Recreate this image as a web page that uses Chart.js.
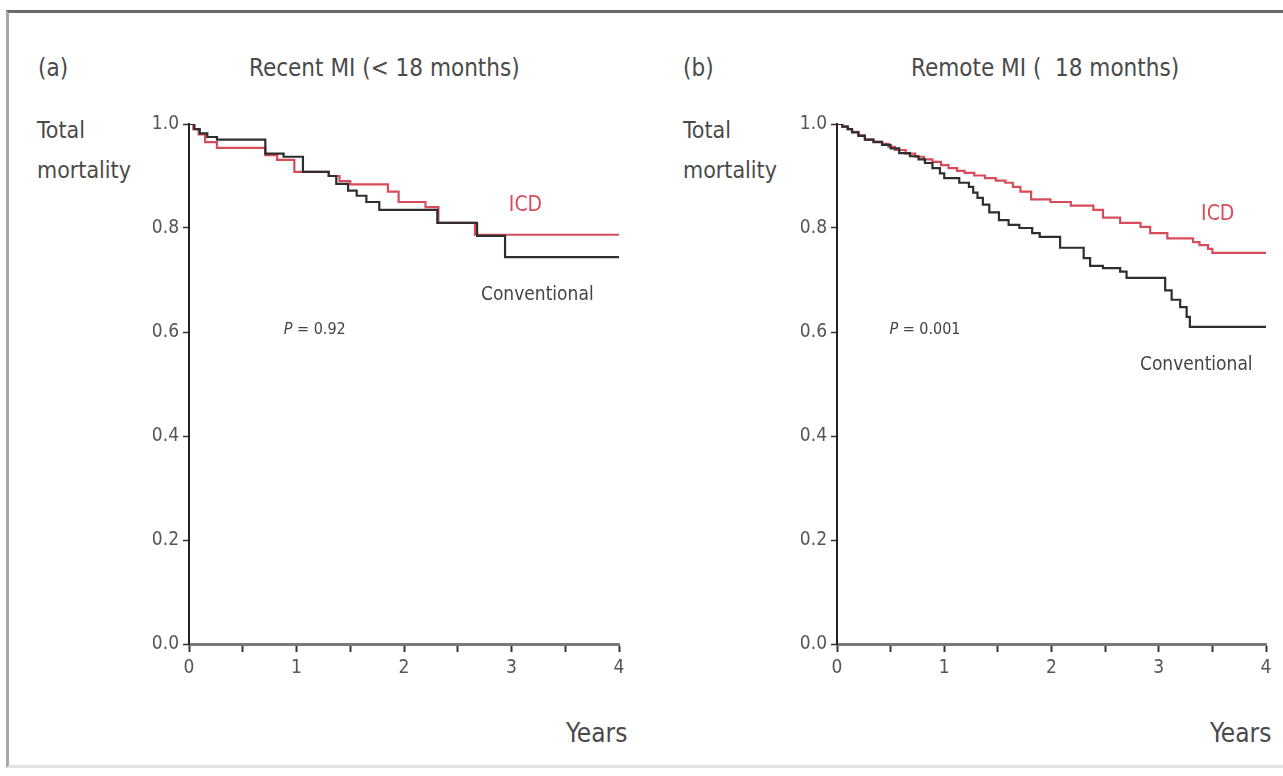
<!DOCTYPE html>
<html>
<head>
    <title>Total mortality by time since MI</title>
    <script src="https://cdn.jsdelivr.net/npm/chart.js"></script>
    <style type="text/css">
        body {
            margin: 0;
            width: 1283px;
            height: 776px;
            overflow: hidden;
            background: #fff;
            font-family: 'Liberation Sans Narrow', 'DejaVu Sans Condensed', 'Liberation Sans', sans-serif;
            color: #4a4a4a;
        }
        .frame {
            position: absolute;
            left: 6px;
            top: 10px;
            width: 1290px;
            height: 752px;
            border-top: 3px solid #6a6a6a;
            border-left: 3px solid #a8a8a8;
            border-bottom: 3px solid #e4e4e4;
        }
        .txt {
            position: absolute;
            white-space: nowrap;
            line-height: 1;
        }
        .title { font-size: 24px; top: 56px; }
        .ylab { font-size: 23px; line-height: 40px; top: 110px; }
        .xlab { font-size: 26px; top: 720px; }
        .panel {
            position: absolute;
            top: 100px;
            height: 600px;
        }
    </style>
</head>
<body>
    <div class="frame"></div>

    <div class="txt title" style="left: 38px;">(a)</div>
    <div class="txt title" style="left: 249px;">Recent MI (&lt; 18 months)</div>
    <div class="txt title" style="left: 683px;">(b)</div>
    <div class="txt title" style="left: 911px;">Remote MI (&nbsp;&nbsp;18 months)</div>

    <div class="txt ylab" style="left: 37px;">Total<br>mortality</div>
    <div class="txt ylab" style="left: 683px;">Total<br>mortality</div>

    <div class="txt xlab" style="left: 566px;">Years</div>
    <div class="txt xlab" style="left: 1210px;">Years</div>

    <div class="panel" style="left: 130px; width: 520px;"><canvas id="chart-a"></canvas></div>
    <div class="panel" style="left: 778px; width: 505px;"><canvas id="chart-b"></canvas></div>

    <script type="text/javascript">
        // Kaplan-Meier steps: time of each drop (years) and survival after it
        const recentConvTimes = [0, 0.05, 0.1, 0.17, 0.26, 0.71, 0.88, 1.06, 1.3, 1.37, 1.48, 1.56, 1.65, 1.77, 2.31, 2.68, 2.94];
        const recentConvSurv  = [1.0, 0.99, 0.982, 0.975, 0.97, 0.943, 0.937, 0.908, 0.9, 0.885, 0.872, 0.862, 0.85, 0.835, 0.81, 0.785, 0.744];

        const recentIcdTimes = [0, 0.04, 0.09, 0.15, 0.26, 0.71, 0.82, 0.98, 1.3, 1.4, 1.5, 1.85, 1.95, 2.2, 2.32, 2.66];
        const recentIcdSurv  = [1.0, 0.99, 0.98, 0.965, 0.954, 0.94, 0.931, 0.908, 0.9, 0.89, 0.884, 0.87, 0.85, 0.84, 0.81, 0.787];

        const remoteConvTimes = [0, 0.05, 0.1, 0.14, 0.2, 0.26, 0.34, 0.42, 0.5, 0.58, 0.68, 0.76, 0.82, 0.89, 0.96, 1.0, 1.14, 1.23, 1.27, 1.31, 1.36, 1.42, 1.51, 1.6, 1.7, 1.82, 1.89, 2.08, 2.3, 2.36, 2.48, 2.64, 2.7, 3.06, 3.12, 3.2, 3.26, 3.29];
        const remoteConvSurv  = [1.0, 0.995, 0.99, 0.984, 0.977, 0.97, 0.965, 0.96, 0.953, 0.944, 0.938, 0.932, 0.925, 0.915, 0.905, 0.896, 0.887, 0.879, 0.868, 0.858, 0.845, 0.83, 0.815, 0.806, 0.8, 0.79, 0.783, 0.762, 0.742, 0.727, 0.723, 0.716, 0.704, 0.68, 0.662, 0.648, 0.629, 0.61];

        const remoteIcdTimes = [0, 0.05, 0.1, 0.14, 0.2, 0.26, 0.34, 0.42, 0.48, 0.54, 0.64, 0.73, 0.81, 0.89, 0.97, 1.04, 1.12, 1.19, 1.28, 1.38, 1.48, 1.57, 1.64, 1.71, 1.81, 1.99, 2.18, 2.39, 2.48, 2.64, 2.83, 2.92, 3.08, 3.32, 3.38, 3.46, 3.5];
        const remoteIcdSurv  = [1.0, 0.995, 0.99, 0.985, 0.978, 0.97, 0.966, 0.962, 0.956, 0.95, 0.943, 0.937, 0.932, 0.927, 0.921, 0.915, 0.91, 0.906, 0.901, 0.896, 0.891, 0.887, 0.879, 0.87, 0.855, 0.85, 0.843, 0.835, 0.82, 0.81, 0.802, 0.79, 0.78, 0.773, 0.767, 0.76, 0.752];

        const yTicks = [0, 0.2, 0.4, 0.6, 0.8, 1.0];
        const xTicks = [0, 1, 2, 3, 4];
        const followUp = 4;

        const FONT = "'Liberation Sans Narrow', 'DejaVu Sans Condensed', 'Liberation Sans', sans-serif";
        const ICD_RED = '#d64c5a';
        const CONV_GREY = '#2e2e2e';

        // turn step arrays into points, carried flat to end of follow-up
        function kmPoints(times, surv) {
            const pts = times.map((t, i) => ({ x: t, y: surv[i] }));
            pts.push({ x: followUp, y: surv[surv.length - 1] });
            return pts;
        }

        // text labels placed in data units inside the plot
        const notesPlugin = {
            id: 'notes',
            afterDatasetsDraw(chart, args, opts) {
                const ctx = chart.ctx;
                const xs = chart.scales.x, ys = chart.scales.y;
                ctx.save();
                ctx.textBaseline = 'middle';
                (opts.items || []).forEach(n => {
                    const px = xs.getPixelForValue(n.x);
                    const py = ys.getPixelForValue(n.y);
                    ctx.fillStyle = n.color;
                    if (n.italic) {
                        // italic P followed by the value
                        ctx.font = 'italic ' + n.size + 'px ' + FONT;
                        const wP = ctx.measureText(n.italic).width;
                        ctx.font = n.size + 'px ' + FONT;
                        const wR = ctx.measureText(n.text).width;
                        let left = px - (wP + wR) / 2;
                        ctx.textAlign = 'left';
                        ctx.font = 'italic ' + n.size + 'px ' + FONT;
                        ctx.fillText(n.italic, left, py);
                        ctx.font = n.size + 'px ' + FONT;
                        ctx.fillText(n.text, left + wP, py);
                    } else {
                        ctx.textAlign = 'center';
                        ctx.font = n.size + 'px ' + FONT;
                        ctx.fillText(n.text, px, py);
                    }
                });
                ctx.restore();
            }
        };

        function makeChart(id, conv, icd, notes, rightPad) {
            return new Chart(document.getElementById(id), {
                type: 'line',
                data: {
                    datasets: [
                        {
                            label: 'Conventional',
                            data: kmPoints(conv[0], conv[1]),
                            borderColor: CONV_GREY,
                            borderWidth: 2.2,
                            stepped: true,
                            pointRadius: 0,
                            fill: false
                        },
                        {
                            label: 'ICD',
                            data: kmPoints(icd[0], icd[1]),
                            borderColor: ICD_RED,
                            borderWidth: 2.2,
                            stepped: true,
                            pointRadius: 0,
                            fill: false
                        }
                    ]
                },
                options: {
                    responsive: true,
                    maintainAspectRatio: false,
                    animation: false,
                    layout: { padding: { top: 24, right: rightPad, left: 0, bottom: 0 } },
                    plugins: {
                        legend: { display: false },
                        tooltip: { enabled: false },
                        notes: { items: notes }
                    },
                    scales: {
                        x: {
                            type: 'linear',
                            min: 0,
                            max: followUp,
                            afterFit(scale) { scale.height = 56; },
                            afterBuildTicks(scale) {
                                const t = [];
                                for (let v = 0; v <= followUp; v += 0.5) t.push({ value: v });
                                scale.ticks = t;
                            },
                            border: { color: '#7a7a7a', width: 3 },
                            grid: { drawOnChartArea: false, tickLength: 8, tickColor: '#333', tickWidth: 2 },
                            ticks: {
                                color: '#555',
                                padding: 5,
                                maxRotation: 0,
                                autoSkip: false,
                                font: { family: FONT, size: 19 },
                                callback: v => xTicks.includes(v) ? String(v) : ''
                            }
                        },
                        y: {
                            min: 0,
                            max: 1,
                            afterFit(scale) { scale.width = 59; },
                            afterBuildTicks(scale) {
                                scale.ticks = yTicks.map(v => ({ value: v }));
                            },
                            border: { color: '#222', width: 2 },
                            grid: { drawOnChartArea: false, tickLength: 6, tickColor: '#333', tickWidth: 1.5 },
                            ticks: {
                                color: '#555',
                                padding: 4,
                                font: { family: FONT, size: 19 },
                                callback: v => v.toFixed(1)
                            }
                        }
                    }
                },
                plugins: [notesPlugin]
            });
        }

        makeChart('chart-a',
            [recentConvTimes, recentConvSurv],
            [recentIcdTimes, recentIcdSurv],
            [
                { text: 'ICD', x: 3.13, y: 0.844, size: 21, color: ICD_RED },
                { text: 'Conventional', x: 3.24, y: 0.671, size: 19, color: '#444' },
                { italic: 'P', text: ' = 0.92', x: 1.17, y: 0.604, size: 16, color: '#444' }
            ],
            31);

        makeChart('chart-b',
            [remoteConvTimes, remoteConvSurv],
            [remoteIcdTimes, remoteIcdSurv],
            [
                { text: 'ICD', x: 3.55, y: 0.825, size: 21, color: ICD_RED },
                { text: 'Conventional', x: 3.35, y: 0.537, size: 19, color: '#444' },
                { italic: 'P', text: ' = 0.001', x: 0.82, y: 0.604, size: 16, color: '#444' }
            ],
            17);
    </script>
</body>
</html>
